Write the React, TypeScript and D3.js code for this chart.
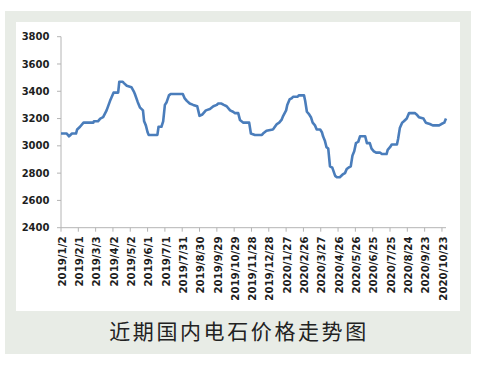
import React from "react";
import * as d3 from "d3";

const dates: string[] = [
  "2019-01-02","2019-01-12","2019-01-16","2019-01-21","2019-01-28","2019-01-30","2019-02-04","2019-02-10",
  "2019-02-27","2019-02-28","2019-03-07","2019-03-11","2019-03-16","2019-03-22","2019-03-28","2019-04-03",
  "2019-04-11","2019-04-13","2019-04-19","2019-04-21","2019-04-26","2019-05-04","2019-05-08","2019-05-10",
  "2019-05-15","2019-05-19","2019-05-24","2019-05-26","2019-05-29","2019-06-01","2019-06-03","2019-06-18",
  "2019-06-20","2019-06-25","2019-06-28","2019-07-01","2019-07-04","2019-07-08","2019-07-11","2019-08-01",
  "2019-08-04","2019-08-08","2019-08-13","2019-08-19","2019-08-26","2019-08-30","2019-09-04","2019-09-10",
  "2019-09-17","2019-09-23","2019-09-29","2019-10-01","2019-10-07","2019-10-11","2019-10-16","2019-10-22",
  "2019-10-27","2019-10-30","2019-11-05","2019-11-08","2019-11-14","2019-11-24","2019-11-27","2019-12-04",
  "2019-12-16","2019-12-18","2019-12-24","2020-01-04","2020-01-06","2020-01-11","2020-01-15","2020-01-19",
  "2020-01-22","2020-01-27","2020-01-29","2020-02-02","2020-02-06","2020-02-08","2020-02-16","2020-02-18",
  "2020-02-27","2020-02-29","2020-03-03","2020-03-07","2020-03-10","2020-03-13","2020-03-17","2020-03-20",
  "2020-03-26","2020-03-29","2020-03-31","2020-04-03","2020-04-06","2020-04-09","2020-04-12","2020-04-16",
  "2020-04-21","2020-04-24","2020-04-29","2020-05-04","2020-05-08","2020-05-11","2020-05-14","2020-05-18",
  "2020-05-21","2020-05-24","2020-05-27","2020-05-31","2020-06-03","2020-06-12","2020-06-15","2020-06-20",
  "2020-06-23","2020-06-27","2020-07-01","2020-07-08","2020-07-11","2020-07-19","2020-07-21","2020-07-25",
  "2020-07-28","2020-08-06","2020-08-08","2020-08-11","2020-08-15","2020-08-18","2020-08-23","2020-08-27",
  "2020-09-06","2020-09-09","2020-09-13","2020-09-21","2020-09-25","2020-10-02","2020-10-07","2020-10-18",
  "2020-10-22","2020-10-27","2020-10-30"
];

const prices: number[] = [
  3090,3090,3070,3090,3090,3120,3140,3170,
  3170,3180,3180,3200,3210,3260,3330,3390,
  3390,3470,3470,3460,3440,3430,3400,3380,
  3320,3280,3260,3180,3150,3100,3080,3080,
  3140,3140,3180,3300,3320,3370,3380,3380,
  3350,3330,3310,3300,3290,3220,3230,3260,
  3270,3290,3300,3310,3310,3300,3290,3260,
  3250,3240,3240,3190,3170,3170,3090,3080,
  3080,3090,3110,3120,3130,3160,3170,3190,
  3220,3260,3300,3340,3350,3360,3360,3370,
  3370,3330,3250,3230,3210,3170,3150,3120,
  3120,3100,3070,3040,2990,2980,2850,2840,
  2780,2770,2770,2790,2800,2830,2840,2850,
  2930,2960,3020,3030,3070,3070,3020,3020,
  2980,2960,2950,2950,2940,2940,2970,2990,
  3010,3010,3050,3130,3170,3180,3200,3240,
  3240,3230,3210,3200,3170,3160,3150,3150,
  3160,3170,3200
];

const tickLabels: string[] = [
  "2019/1/2","2019/2/1","2019/3/3","2019/4/2","2019/5/2","2019/6/1","2019/7/1","2019/7/31",
  "2019/8/30","2019/9/29","2019/10/29","2019/11/28","2019/12/28","2020/1/27","2020/2/26","2020/3/27",
  "2020/4/26","2020/5/26","2020/6/25","2020/7/25","2020/8/24","2020/9/23","2020/10/23"
];

const yTicks: number[] = [2400, 2600, 2800, 3000, 3200, 3400, 3600, 3800];

const title = "近期国内电石价格走势图";

export default function App() {
  const parseISO = d3.timeParse("%Y-%m-%d");
  const parseTick = d3.timeParse("%Y/%m/%d");
  const data = dates.map((d, i) => ({ date: parseISO(d) as Date, value: prices[i] }));

  const x = d3
    .scaleTime()
    .domain([parseISO(dates[0]) as Date, parseISO(dates[dates.length - 1]) as Date])
    .range([61, 446]);
  const y = d3.scaleLinear().domain([2400, 3800]).range([227.7, 36.7]);

  const line = d3
    .line<{ date: Date; value: number }>()
    .x((d) => x(d.date))
    .y((d) => y(d.value));

  const axisColor = "#b4b4b4";
  const font = "'DejaVu Sans', Verdana, sans-serif";

  return (
    <svg
      width={482}
      height={367}
      style={{ position: "absolute", left: 0, top: 0 }}
      xmlns="http://www.w3.org/2000/svg"
    >
      <rect x={0} y={0} width={482} height={367} fill="#ffffff" />
      <rect x={5} y={11} width={466} height={343} fill="#e8ece6" />
      <rect x={16} y={22} width={444} height={289} fill="#ffffff" />

      {/* Y axis */}
      <line x1={61} x2={61} y1={y(3800)} y2={y(2400)} stroke={axisColor} strokeWidth={1} />
      {yTicks.map((t) => (
        <g key={t}>
          <line x1={57} x2={61} y1={y(t)} y2={y(t)} stroke={axisColor} strokeWidth={1} />
          <text
            x={49.5}
            y={y(t)}
            dy="0.36em"
            textAnchor="end"
            fontFamily={font}
            fontWeight="bold"
            fontSize={10}
            fill="#1e1e1e"
          >
            {t}
          </text>
        </g>
      ))}

      {/* X axis */}
      <line x1={61} x2={446} y1={y(2400)} y2={y(2400)} stroke={axisColor} strokeWidth={1} />
      {tickLabels.map((t) => {
        const tx = x(parseTick(t) as Date);
        return (
          <g key={t}>
            <line x1={tx} x2={tx} y1={y(2400)} y2={y(2400) + 4} stroke={axisColor} strokeWidth={1} />
            <text
              transform={`translate(${tx + 1},236.5) rotate(-90)`}
              dy="0.36em"
              textAnchor="end"
              fontFamily={font}
              fontWeight="bold"
              fontSize={10.2}
              fill="#1e1e1e"
            >
              {t}
            </text>
          </g>
        );
      })}

      <path d={line(data) || ""} fill="none" stroke="#4a7dbb" strokeWidth={2.6} strokeLinejoin="round" />

      <text
        x={239}
        y={330}
        dominantBaseline="central"
        textAnchor="middle"
        fontFamily="'Noto Sans CJK SC', sans-serif"
        fontSize={21}
        letterSpacing={2.6}
        fill="#222222"
      >
        {title}
      </text>
    </svg>
  );
}
